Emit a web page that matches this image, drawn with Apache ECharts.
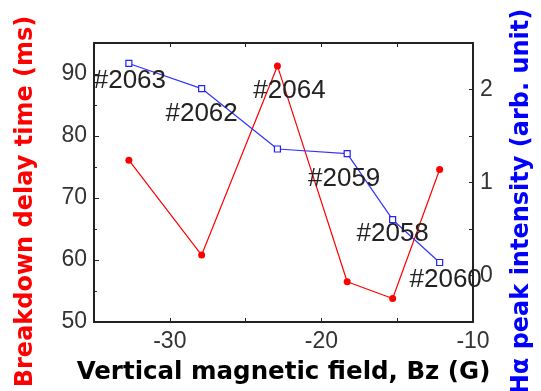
<!DOCTYPE html>
<html>
<head>
<meta charset="utf-8">
<script src="https://cdn.jsdelivr.net/npm/echarts@6/dist/echarts.min.js"></script>
<style>
	html, body { margin: 0; padding: 0; background: #fff; }
	#draw { width: 541px; height: 391px; }
</style>
</head>
<body>
<div id="draw"></div>
<script>
	// values
	var bz = [-32.7, -27.9, -22.9, -18.3, -15.3, -12.2];
	var delayTime = [76.1, 60.8, 91.3, 56.5, 53.8, 74.6];
	var haIntensity = [2.28, 2.01, 1.36, 1.31, 0.60, 0.14];
	var shots = ['#2063', '#2062', '#2064', '#2059', '#2058', '#2060'];
	// where each shot label sits relative to its blue point (px)
	var shotOffsets = [[1, 17], [0, 25], [12, -58], [-3, 25], [0, 14], [6, 17]];

	var font = 'Liberation Sans, Arial, sans-serif';
	var titleFont = 'DejaVu Sans, sans-serif';
	var axisColor = '#222';

	var redData = bz.map(function (x, i) { return [x, delayTime[i]]; });
	var blueData = bz.map(function (x, i) {
		return {
			value: [x, haIntensity[i]],
			label: {
				show: true,
				formatter: shots[i],
				position: 'inside',
				offset: shotOffsets[i]
			}
		};
	});

	var myChart = echarts.init(document.getElementById('draw'));
	myChart.setOption({
		animation: false,
		grid: {
			left: 94,
			right: 68,
			top: 43,
			bottom: 69,
			outerBoundsMode: 'none'
		},
		xAxis: [{
			type: 'value',
			min: -35,
			max: -10,
			interval: 5,
			name: 'Vertical magnetic field, Bz (G)',
			nameLocation: 'middle',
			nameGap: 38,
			nameTextStyle: {
				color: '#000',
				fontWeight: 'bold',
				fontSize: 24.5,
				fontFamily: titleFont
			},
			axisLine: { onZero: false, lineStyle: { color: axisColor, width: 2 } },
			axisTick: { inside: true, length: 4, lineStyle: { color: axisColor } },
			axisLabel: {
				color: '#333',
				fontSize: 23,
				fontFamily: font,
				margin: 8,
				formatter: function (v) { return v % 10 === 0 ? v : ''; }
			},
			splitLine: { show: false }
		}, {
			type: 'value',
			position: 'top',
			min: -35,
			max: -10,
			interval: 5,
			axisLine: { onZero: false, lineStyle: { color: axisColor, width: 2 } },
			axisTick: { inside: true, length: 4, lineStyle: { color: axisColor } },
			axisLabel: { show: false },
			splitLine: { show: false }
		}],
		yAxis: [{
			type: 'value',
			min: 50,
			max: 95,
			interval: 10,
			name: 'Breakdown delay time (ms)',
			nameLocation: 'middle',
			nameGap: 56,
			nameTextStyle: {
				color: '#ff0000',
				fontWeight: 'bold',
				fontSize: 24,
				fontFamily: titleFont,
				padding: [0, 38, 0, 0]
			},
			axisLine: { show: true, onZero: false, lineStyle: { color: axisColor, width: 2 } },
			axisTick: { show: true, inside: true, length: 5, lineStyle: { color: axisColor } },
			minorTick: { show: true, splitNumber: 2, length: 3, lineStyle: { color: axisColor } },
			axisLabel: {
				color: '#333',
				fontSize: 23,
				fontFamily: font,
				margin: 7,
				showMaxLabel: false
			},
			splitLine: { show: false },
			minorSplitLine: { show: false }
		}, {
			type: 'value',
			position: 'right',
			min: -0.5,
			max: 2.5,
			interval: 0.5,
			name: 'H\u03b1 peak intensity (arb. unit)',
			nameLocation: 'middle',
			nameGap: 37,
			nameRotate: 90,
			nameTextStyle: {
				color: '#0000ff',
				fontWeight: 'bold',
				fontSize: 24,
				fontFamily: titleFont,
				padding: [0, 38, 0, 0]
			},
			axisLine: { show: true, onZero: false, lineStyle: { color: axisColor, width: 2 } },
			axisTick: { show: true, inside: true, length: 4, lineStyle: { color: axisColor } },
			axisLabel: {
				color: '#333',
				fontSize: 23,
				fontFamily: font,
				margin: 7,
				formatter: function (v) { return Math.abs(v % 1) < 1e-9 ? v : ''; }
			},
			splitLine: { show: false }
		}],
		series: [{
			name: 'delay',
			type: 'line',
			xAxisIndex: 0,
			yAxisIndex: 0,
			data: redData,
			symbol: 'circle',
			symbolSize: 7,
			lineStyle: { color: '#ff0000', width: 1.2 },
			itemStyle: { color: '#ff0000' },
			z: 3
		}, {
			name: 'intensity',
			type: 'line',
			xAxisIndex: 0,
			yAxisIndex: 1,
			data: blueData,
			symbol: 'rect',
			symbolSize: 6,
			lineStyle: { color: '#3333ff', width: 1.2 },
			itemStyle: { color: '#fff', borderColor: '#2222ff', borderWidth: 1.2 },
			label: {
				color: '#222',
				fontSize: 26,
				fontFamily: font
			},
			z: 4
		}]
	});
</script>
</body>
</html>
